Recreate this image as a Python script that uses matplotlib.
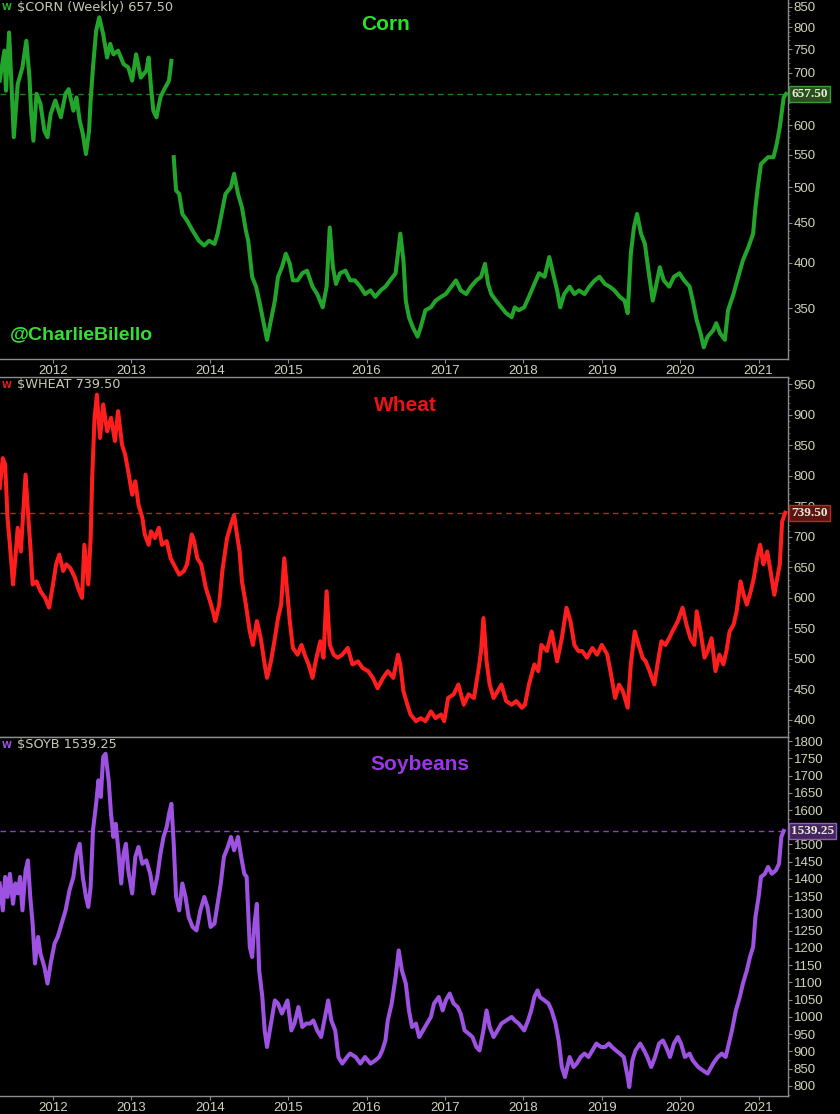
import numpy as np
import matplotlib
matplotlib.use("Agg")
import matplotlib.pyplot as plt
from matplotlib.ticker import FixedLocator, FuncFormatter, NullFormatter
from matplotlib.transforms import blended_transform_factory

# ---------------- data (decimal years, price in cents) ----------------
YEARS = [2012, 2013, 2014, 2015, 2016, 2017, 2018, 2019, 2020, 2021]

CORN_T = [2011.32, 2011.38, 2011.40, 2011.44, 2011.47, 2011.50, 2011.55, 2011.61, 2011.66, 2011.70,
          2011.72, 2011.75, 2011.79, 2011.84, 2011.89, 2011.93, 2011.97, 2012.03, 2012.10, 2012.16,
          2012.20, 2012.26, 2012.30, 2012.34, 2012.38, 2012.42, 2012.46, 2012.48, 2012.51, 2012.55,
          2012.59, 2012.64, 2012.69, 2012.73, 2012.77, 2012.83, 2012.90, 2012.96, 2013.01, 2013.06,
          2013.12, 2013.19, 2013.22, 2013.25, 2013.28, 2013.32, 2013.37, 2013.41, 2013.48, 2013.51,
          2013.54, 2013.57, 2013.61, 2013.65, 2013.71, 2013.78, 2013.86, 2013.93, 2013.99, 2014.06,
          2014.10, 2014.15, 2014.20, 2014.27, 2014.31, 2014.36, 2014.41, 2014.46, 2014.49, 2014.54,
          2014.59, 2014.63, 2014.68, 2014.73, 2014.78, 2014.83, 2014.87, 2014.92, 2014.97, 2015.02,
          2015.06, 2015.12, 2015.18, 2015.24, 2015.31, 2015.37, 2015.44, 2015.49, 2015.53, 2015.57,
          2015.61, 2015.66, 2015.73, 2015.79, 2015.85, 2015.92, 2015.98, 2016.05, 2016.11, 2016.18,
          2016.24, 2016.30, 2016.37, 2016.43, 2016.47, 2016.50, 2016.54, 2016.59, 2016.65, 2016.69,
          2016.75, 2016.82, 2016.88, 2016.95, 2017.01, 2017.08, 2017.14, 2017.20, 2017.27, 2017.33,
          2017.40, 2017.46, 2017.51, 2017.55, 2017.59, 2017.65, 2017.72, 2017.78, 2017.85, 2017.89,
          2017.94, 2018.01, 2018.07, 2018.14, 2018.20, 2018.27, 2018.33, 2018.37, 2018.43, 2018.47,
          2018.52, 2018.59, 2018.65, 2018.71, 2018.78, 2018.84, 2018.91, 2018.97, 2019.04, 2019.10,
          2019.16, 2019.23, 2019.29, 2019.33, 2019.37, 2019.41, 2019.45, 2019.50, 2019.55, 2019.60,
          2019.65, 2019.69, 2019.74, 2019.79, 2019.86, 2019.92, 2019.99, 2020.05, 2020.12, 2020.16,
          2020.21, 2020.26, 2020.30, 2020.35, 2020.42, 2020.46, 2020.51, 2020.57, 2020.61, 2020.68,
          2020.74, 2020.80, 2020.87, 2020.93, 2020.96, 2020.99, 2021.03, 2021.08, 2021.12, 2021.19,
          2021.23, 2021.27, 2021.32, 2021.35]
CORN_V = [684, 747, 664, 788, 677, 579, 677, 711, 769, 690,
          626, 573, 658, 639, 590, 579, 620, 645, 614, 658,
          667, 626, 651, 608, 585, 551, 590, 645, 711, 792,
          824, 784, 732, 762, 739, 747, 718, 711, 684, 739,
          690, 704, 732, 671, 626, 614, 651, 664, 684, 725,
          546, 495, 490, 462, 453, 440, 427, 421, 427, 423,
          436, 462, 490, 500, 520, 490, 471, 440, 427, 384,
          373, 358, 338, 319, 338, 358, 384, 395, 411, 399,
          380, 380, 388, 391, 373, 365, 351, 373, 444, 395,
          376, 388, 391, 380, 380, 373, 365, 369, 362, 369,
          373, 380, 388, 436, 403, 358, 341, 331, 322, 331,
          348, 351, 358, 362, 365, 373, 380, 369, 365, 373,
          380, 384, 399, 376, 365, 358, 351, 345, 341, 351,
          348, 351, 362, 376, 388, 384, 407, 391, 369, 351,
          365, 373, 365, 369, 365, 373, 380, 384, 376, 373,
          369, 362, 358, 345, 411, 444, 462, 436, 423, 388,
          358, 373, 395, 380, 373, 384, 388, 380, 373, 358,
          338, 325, 312, 322, 328, 335, 325, 319, 348, 365,
          384, 403, 419, 436, 471, 500, 535, 541, 546, 546,
          567, 596, 651, 657.5]
CORN_GAP = 2013.525  # contract gap in the corn series
CORN_LAST = 657.50

WHEAT_T = [2011.32, 2011.36, 2011.39, 2011.42, 2011.45, 2011.49, 2011.52, 2011.55, 2011.59, 2011.65,
           2011.68, 2011.71, 2011.74, 2011.79, 2011.84, 2011.90, 2011.95, 2012.00, 2012.04, 2012.08,
           2012.13, 2012.17, 2012.22, 2012.28, 2012.32, 2012.37, 2012.40, 2012.45, 2012.48, 2012.50,
           2012.53, 2012.56, 2012.60, 2012.64, 2012.69, 2012.74, 2012.79, 2012.83, 2012.88, 2012.92,
           2012.96, 2013.01, 2013.05, 2013.09, 2013.14, 2013.17, 2013.22, 2013.25, 2013.30, 2013.35,
           2013.39, 2013.45, 2013.50, 2013.54, 2013.61, 2013.67, 2013.71, 2013.77, 2013.80, 2013.84,
           2013.89, 2013.95, 2013.99, 2014.04, 2014.07, 2014.12, 2014.16, 2014.22, 2014.27, 2014.31,
           2014.34, 2014.38, 2014.41, 2014.46, 2014.51, 2014.55, 2014.60, 2014.65, 2014.70, 2014.73,
           2014.78, 2014.83, 2014.87, 2014.91, 2014.95, 2014.99, 2015.02, 2015.06, 2015.12, 2015.17,
           2015.21, 2015.26, 2015.31, 2015.36, 2015.41, 2015.45, 2015.49, 2015.53, 2015.58, 2015.63,
           2015.69, 2015.76, 2015.82, 2015.89, 2015.95, 2016.02, 2016.08, 2016.14, 2016.21, 2016.27,
           2016.34, 2016.40, 2016.43, 2016.47, 2016.52, 2016.56, 2016.63, 2016.69, 2016.75, 2016.82,
           2016.88, 2016.95, 2016.99, 2017.04, 2017.11, 2017.17, 2017.24, 2017.30, 2017.37, 2017.43,
           2017.46, 2017.49, 2017.53, 2017.57, 2017.62, 2017.67, 2017.72, 2017.78, 2017.85, 2017.91,
           2017.98, 2018.02, 2018.07, 2018.14, 2018.19, 2018.23, 2018.30, 2018.36, 2018.43, 2018.49,
           2018.55, 2018.60, 2018.65, 2018.70, 2018.75, 2018.81, 2018.88, 2018.94, 2019.00, 2019.07,
           2019.11, 2019.17, 2019.22, 2019.27, 2019.33, 2019.37, 2019.42, 2019.47, 2019.52, 2019.56,
           2019.61, 2019.67, 2019.71, 2019.76, 2019.81, 2019.86, 2019.90, 2019.97, 2020.03, 2020.08,
           2020.13, 2020.18, 2020.21, 2020.26, 2020.31, 2020.35, 2020.40, 2020.45, 2020.50, 2020.55,
           2020.59, 2020.63, 2020.68, 2020.72, 2020.77, 2020.81, 2020.85, 2020.90, 2020.94, 2020.98,
           2021.02, 2021.06, 2021.11, 2021.16, 2021.20, 2021.23, 2021.27, 2021.30, 2021.34]
WHEAT_V = [780, 829, 818, 731, 687, 622, 665, 715, 676, 802,
           742, 687, 622, 627, 611, 600, 584, 622, 655, 671,
           644, 655, 649, 633, 616, 600, 687, 622, 698, 797,
           895, 933, 862, 917, 873, 895, 857, 906, 851, 835,
           807, 769, 791, 753, 731, 704, 687, 709, 698, 715,
           687, 693, 665, 655, 638, 644, 655, 704, 693, 665,
           655, 616, 600, 578, 562, 589, 644, 698, 720, 736,
           709, 676, 627, 589, 545, 523, 562, 534, 491, 469,
           496, 534, 567, 589, 665, 605, 562, 518, 507, 523,
           507, 491, 469, 502, 529, 502, 611, 523, 507, 502,
           507, 518, 491, 496, 485, 480, 469, 452, 469, 480,
           469, 507, 491, 447, 425, 409, 398, 403, 398, 414,
           403, 409, 398, 436, 442, 458, 425, 442, 436, 485,
           513, 567, 496, 458, 436, 447, 458, 431, 425, 431,
           420, 425, 458, 491, 480, 523, 513, 545, 496, 534,
           584, 562, 523, 513, 513, 502, 518, 507, 523, 507,
           480, 436, 458, 447, 420, 491, 545, 523, 502, 496,
           480, 458, 491, 529, 523, 534, 545, 562, 584, 556,
           534, 523, 578, 545, 502, 513, 534, 480, 507, 491,
           513, 545, 556, 578, 627, 605, 589, 611, 633, 665,
           687, 655, 676, 638, 605, 627, 655, 725, 739.5]
WHEAT_LAST = 739.50

SOY_T = [2011.32, 2011.36, 2011.39, 2011.42, 2011.45, 2011.49, 2011.52, 2011.55, 2011.58, 2011.61,
         2011.65, 2011.68, 2011.71, 2011.74, 2011.77, 2011.81, 2011.84, 2011.89, 2011.93, 2011.97,
         2012.02, 2012.06, 2012.11, 2012.16, 2012.21, 2012.26, 2012.30, 2012.34, 2012.38, 2012.42,
         2012.45, 2012.48, 2012.51, 2012.55, 2012.58, 2012.61, 2012.64, 2012.67, 2012.71, 2012.74,
         2012.77, 2012.80, 2012.83, 2012.87, 2012.90, 2012.93, 2012.96, 2013.01, 2013.05, 2013.09,
         2013.14, 2013.19, 2013.24, 2013.28, 2013.33, 2013.37, 2013.41, 2013.45, 2013.48, 2013.51,
         2013.54, 2013.57, 2013.61, 2013.65, 2013.69, 2013.73, 2013.78, 2013.83, 2013.88, 2013.93,
         2013.97, 2014.01, 2014.06, 2014.10, 2014.14, 2014.18, 2014.23, 2014.27, 2014.31, 2014.36,
         2014.40, 2014.44, 2014.47, 2014.51, 2014.54, 2014.57, 2014.60, 2014.63, 2014.67, 2014.70,
         2014.73, 2014.78, 2014.83, 2014.87, 2014.92, 2014.99, 2015.04, 2015.08, 2015.13, 2015.18,
         2015.23, 2015.28, 2015.32, 2015.37, 2015.42, 2015.47, 2015.51, 2015.55, 2015.60, 2015.64,
         2015.69, 2015.75, 2015.79, 2015.86, 2015.92, 2015.98, 2016.05, 2016.11, 2016.16, 2016.20,
         2016.24, 2016.27, 2016.32, 2016.37, 2016.41, 2016.45, 2016.50, 2016.54, 2016.58, 2016.63,
         2016.67, 2016.72, 2016.77, 2016.82, 2016.86, 2016.92, 2016.97, 2017.01, 2017.06, 2017.11,
         2017.16, 2017.20, 2017.25, 2017.30, 2017.35, 2017.40, 2017.44, 2017.49, 2017.53, 2017.57,
         2017.62, 2017.67, 2017.72, 2017.78, 2017.85, 2017.89, 2017.94, 2018.01, 2018.06, 2018.10,
         2018.14, 2018.18, 2018.21, 2018.27, 2018.32, 2018.36, 2018.41, 2018.45, 2018.49, 2018.53,
         2018.59, 2018.64, 2018.68, 2018.73, 2018.78, 2018.83, 2018.88, 2018.93, 2018.99, 2019.04,
         2019.09, 2019.13, 2019.18, 2019.23, 2019.28, 2019.33, 2019.35, 2019.39, 2019.43, 2019.49,
         2019.54, 2019.58, 2019.63, 2019.68, 2019.73, 2019.78, 2019.82, 2019.87, 2019.92, 2019.97,
         2020.01, 2020.06, 2020.12, 2020.16, 2020.23, 2020.29, 2020.35, 2020.42, 2020.48, 2020.53,
         2020.58, 2020.61, 2020.66, 2020.71, 2020.76, 2020.80, 2020.85, 2020.89, 2020.93, 2020.96,
         2021.00, 2021.03, 2021.08, 2021.12, 2021.17, 2021.22, 2021.26, 2021.29, 2021.32]
SOY_V = [1387, 1309, 1406, 1348, 1415, 1328, 1387, 1358, 1406, 1309,
         1425, 1454, 1348, 1271, 1155, 1232, 1184, 1145, 1097, 1155,
         1213, 1232, 1271, 1309, 1367, 1406, 1473, 1502, 1406, 1348,
         1319, 1377, 1541, 1618, 1686, 1638, 1754, 1763, 1686, 1589,
         1522, 1560, 1493, 1387, 1473, 1502, 1425, 1358, 1464, 1493,
         1444, 1454, 1415, 1358, 1406, 1473, 1522, 1551, 1589, 1618,
         1502, 1348, 1309, 1387, 1348, 1290, 1261, 1251, 1309, 1348,
         1319, 1261, 1271, 1328, 1387, 1464, 1493, 1522, 1483, 1522,
         1464, 1415, 1406, 1203, 1174, 1271, 1328, 1135, 1058, 961,
         913, 981, 1048, 1039, 1010, 1048, 961, 981, 1029, 971,
         981, 981, 990, 961, 942, 1000, 1048, 990, 961, 884,
         865, 884, 894, 884, 865, 884, 865, 874, 884, 903,
         932, 990, 1039, 1116, 1193, 1135, 1097, 1019, 971, 981,
         942, 961, 981, 1000, 1039, 1058, 1019, 1048, 1068, 1039,
         1029, 1010, 961, 952, 942, 913, 903, 961, 1019, 971,
         942, 961, 981, 990, 1000, 990, 981, 961, 990, 1019,
         1058, 1077, 1058, 1048, 1039, 1019, 981, 932, 855, 826,
         884, 855, 865, 884, 894, 884, 903, 923, 913, 913,
         923, 913, 903, 894, 884, 826, 797, 874, 903, 923,
         903, 884, 855, 884, 923, 932, 913, 884, 923, 942,
         923, 884, 894, 874, 855, 845, 836, 865, 884, 894,
         884, 913, 961, 1019, 1058, 1097, 1135, 1174, 1203, 1290,
         1348, 1406, 1415, 1435, 1415, 1425, 1444, 1522, 1539.25]
SOY_LAST = 1539.25

CORN_TICKS = [350, 400, 450, 500, 550, 600, 650, 700, 750, 800, 850]
WHEAT_TICKS = [400, 450, 500, 550, 600, 650, 700, 750, 800, 850, 900, 950]
SOY_TICKS = list(range(800, 1801, 50))

# ---------------- style ----------------
W, H = 840, 1114
BG = "black"
GRID = "#8c8c8c"
TXT = "#d2d2ba"
SANS = ["Liberation Sans", "DejaVu Sans"]
CORN_C, WHEAT_C, SOY_C = "#23a52b", "#ff1e1e", "#9d52e2"

fig = plt.figure(figsize=(W / 100, H / 100), dpi=100, facecolor=BG)


def add_ax(top, bottom, right=788):
    return fig.add_axes([0, 1 - bottom / H, right / W, (bottom - top) / H], facecolor=BG)


ax_c = add_ax(0, 359)
ax_w = add_ax(377, 737)
ax_s = add_ax(737, 1096)

XMIN, XMAX = 2011.324, 2021.375

specs = [
    (ax_c, "#1e7e22", "#23501c", "#3f9a35", CORN_LAST, "657.50", CORN_TICKS, (301.5, 867), True),
    (ax_w, "#c42020", "#5a1414", "#c42424", WHEAT_LAST, "739.50", WHEAT_TICKS, (372.1, 961.9), False),
    (ax_s, "#8a3ed2", "#43265e", "#9455d0", SOY_LAST, "1539.25", SOY_TICKS, (771, 1811.6), False),
]

for ax, dc, bfill, bedge, last, lab, ticks, ylim, is_log in specs:
    ax.set_xlim(XMIN, XMAX)
    if is_log:
        ax.set_yscale("log")
    ax.set_ylim(*ylim)
    ax.spines["left"].set_visible(False)
    for sp in ("right", "bottom", "top"):
        ax.spines[sp].set_color(GRID)
        ax.spines[sp].set_linewidth(1.0)
    if ax is ax_c:
        ax.spines["top"].set_visible(False)
    ax.yaxis.tick_right()
    ax.yaxis.set_major_locator(FixedLocator(ticks))
    ax.yaxis.set_major_formatter(FuncFormatter(lambda v, p: f"{v:.0f}"))
    if ax is ax_s:
        minor = list(range(775, 1811, 25))
    else:
        minor = list(range(int(ylim[0]) // 10 * 10 + 10, int(ylim[1]), 10))
    ax.yaxis.set_minor_locator(FixedLocator(minor))
    ax.yaxis.set_minor_formatter(NullFormatter())
    ax.tick_params(axis="y", which="major", direction="out", length=3, width=0.8,
                   color=GRID, labelcolor=TXT, labelsize=9.5, pad=1)
    ax.tick_params(axis="y", which="minor", direction="out", length=1.5, width=0.6, color="#6a6a6a")
    for t in ax.get_yticklabels():
        t.set_fontfamily(SANS)
    ax.xaxis.set_major_locator(FixedLocator(YEARS))
    ax.xaxis.set_major_formatter(FuncFormatter(lambda v, p: f"{v:.0f}"))
    ax.tick_params(axis="x", which="major", direction="out", length=3, width=0.8,
                   color=GRID, labelcolor=TXT, labelsize=9.5, pad=1.5)
    for t in ax.get_xticklabels():
        t.set_fontfamily(SANS)
    if ax is ax_w:
        ax.tick_params(axis="x", labelbottom=False, length=0)

    # dashed last-price line and price flag (the flag covers the tick label beneath it)
    ax.axhline(last, color=dc, lw=1.0, ls=(0, (4, 3)), zorder=1)
    trans = blended_transform_factory(ax.transAxes, ax.transData)
    ax.text(1.004, last, lab, transform=trans, ha="left", va="center",
            fontsize=9.5, fontweight="bold", color="#ecead2", family=["Liberation Serif", "DejaVu Serif"],
            bbox=dict(boxstyle="square,pad=0.15", fc=bfill, ec=bedge, lw=1.0), clip_on=False, zorder=5)

# series
corn_t = np.array(CORN_T)
corn_v = np.array(CORN_V)
pre = corn_t < CORN_GAP
ax_c.plot(corn_t[pre], corn_v[pre], color=CORN_C, lw=2.9, zorder=3)
ax_c.plot(corn_t[~pre], corn_v[~pre], color=CORN_C, lw=2.9, zorder=3)
ax_w.plot(WHEAT_T, WHEAT_V, color=WHEAT_C, lw=2.9, zorder=3)
ax_s.plot(SOY_T, SOY_V, color=SOY_C, lw=2.9, zorder=3)

# titles
ax_c.text(0.489, 1 - 24 / 359, "Corn", transform=ax_c.transAxes, ha="center", va="center",
          fontsize=15, fontweight="bold", color="#2ae02a", family=SANS)
ax_w.text(0.514, 1 - 28 / 360, "Wheat", transform=ax_w.transAxes, ha="center", va="center",
          fontsize=15, fontweight="bold", color="#ea1414", family=SANS)
ax_s.text(0.533, 1 - 27 / 359, "Soybeans", transform=ax_s.transAxes, ha="center", va="center",
          fontsize=15, fontweight="bold", color="#9b36e6", family=SANS)
ax_c.text(10 / 788, 1 - 335 / 359, "@CharlieBilello", transform=ax_c.transAxes, ha="left", va="center",
          fontsize=14, fontweight="bold", color="#36de36", family=SANS)

# header lines
for ypix, txt, col in [(7, "$CORN (Weekly) 657.50", "#2bb02b"),
                       (385, "$WHEAT 739.50", "#e02020"),
                       (745, "$SOYB 1539.25", "#9d52e2")]:
    fig.text(2 / W, 1 - ypix / H, "W", ha="left", va="center", fontsize=6.5,
             fontweight="bold", color=col, family=["DejaVu Sans"])
    fig.text(17 / W, 1 - ypix / H, txt, ha="left", va="center", fontsize=9.3,
             color="#c9c9b2", family=["DejaVu Sans"])

fig.savefig("out.png", dpi=100, facecolor=BG)
